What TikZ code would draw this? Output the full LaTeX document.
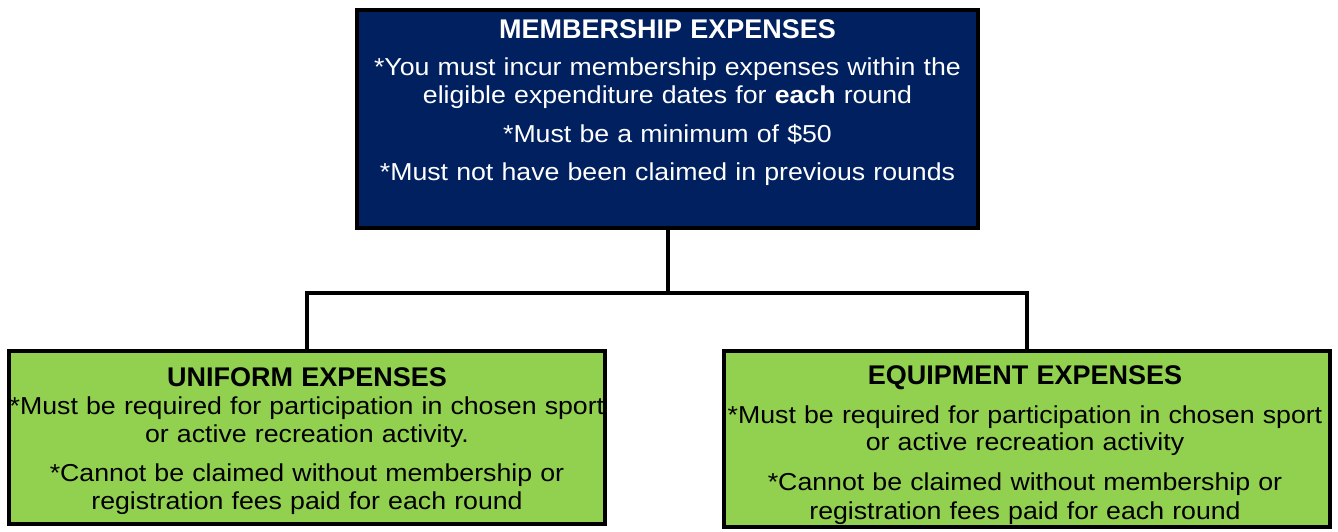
\documentclass[tikz,border=0pt]{standalone}
\usepackage{fontspec}
\setmainfont{Liberation Sans}
\newfontfamily\bodyfont[FakeStretch=1.09]{Liberation Sans}
\usepackage{tikz}
\definecolor{navy}{RGB}{0,32,96}
\definecolor{lightgreen}{RGB}{146,208,80}
\newcommand{\headfont}{\rmfamily\bfseries\fontsize{27}{27}\selectfont}

\begin{document}
\begin{tikzpicture}[x=1pt,y=-1pt,
		box/.style={draw=black, line width=4pt, inner sep=0pt},
		navybox/.style={box, fill=navy},
		greenbox/.style={box, fill=lightgreen},
		boxtext/.style={anchor=north, inner sep=0pt, align=center, text width=620pt,
			font=\bodyfont\fontsize{24.5}{27.5}\selectfont},
		link/.style={draw=black, line width=4pt}]
				\useasboundingbox (0,0) rectangle (1338,531);
				\node[navybox, minimum width=621pt, minimum height=218pt] (membership) at (667.5,119) {};
				\node[greenbox, minimum width=596pt, minimum height=173pt] (uniform) at (307,437.5) {};
				\node[greenbox, minimum width=606pt, minimum height=176pt] (equipment) at (1027,439) {};
				\node[boxtext, text=white] (membershiptext) at (667.5,19) {{\headfont MEMBERSHIP EXPENSES}\\[10pt]
					*You must incur membership expenses within the\\
					eligible expenditure dates for \textbf{each} round\\[11.5pt]
					*Must be a minimum of \$50\\[11pt]
					*Must not have been claimed in previous rounds};
				\node[boxtext] (uniformtext) at (307,367.4) {{\headfont UNIFORM EXPENSES}\\[1pt]
					*Must be required for participation in chosen sport\\
					or active recreation activity.\\[12pt]
					*Cannot be claimed without membership or\\[0.5pt]
					registration fees paid for each round};
				\node[boxtext] (equipmenttext) at (1025,365) {{\headfont EQUIPMENT EXPENSES}\\[11.5pt]
					*Must be required for participation in chosen sport\\
					or active recreation activity\\[12.5pt]
					*Cannot be claimed without membership or\\[1pt]
					registration fees paid for each round};
				\path (membership.south) ++(0,63) coordinate (bus);
				\draw[link] (membership.south) -- (bus);
				\draw[link] (bus) -| (uniform.north);
				\draw[link] (bus) -| (equipment.north);
			\end{tikzpicture}
\end{document}
